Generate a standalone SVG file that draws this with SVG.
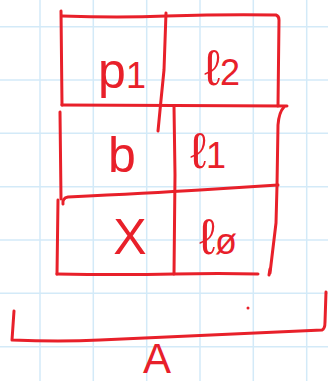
<svg xmlns="http://www.w3.org/2000/svg" width="328" height="381" viewBox="0 0 328 381">
<style>
.grid{stroke:#d3eaf8;stroke-width:1.5}
.ink{fill:none;stroke:#e8202a;stroke-width:3;stroke-linecap:round;stroke-linejoin:round}
.lbl{fill:#e8202a;font-family:"Liberation Sans",sans-serif;font-size:50px;text-anchor:middle}
.sub{font-size:36px}
</style>
<rect width="328" height="381" fill="#ffffff"/>
<g id="grid" class="grid">
<line x1="40" y1="0" x2="40" y2="381"/>
<line x1="93.3" y1="0" x2="93.3" y2="381"/>
<line x1="146.7" y1="0" x2="146.7" y2="381"/>
<line x1="200" y1="0" x2="200" y2="381"/>
<line x1="253.3" y1="0" x2="253.3" y2="381"/>
<line x1="306.7" y1="0" x2="306.7" y2="381"/>
<line x1="0" y1="26.7" x2="328" y2="26.7"/>
<line x1="0" y1="80" x2="328" y2="80"/>
<line x1="0" y1="133.3" x2="328" y2="133.3"/>
<line x1="0" y1="186.7" x2="328" y2="186.7"/>
<line x1="0" y1="240" x2="328" y2="240"/>
<line x1="0" y1="293.3" x2="328" y2="293.3"/>
<line x1="0" y1="346.7" x2="328" y2="346.7"/>
</g>
<g id="connectors" class="ink">
<path d="M61 11 L62 105"/>
<path d="M62 16 Q120 18 166 16 Q230 14 276 15 Q279 16 279 20 L278 106"/>
<path d="M166 13 L164 70 L161 100 L158 131"/>
<path d="M62 105 L287 106"/>
<path d="M60 112 L61 199"/>
<path d="M174 106 L175 175 L174 274"/>
<path d="M284 107 Q279 112 278 125 L277 185"/>
<path d="M63 204 Q62 198 68 197 Q150 193 200 190 L278 185"/>
<path d="M277 186 L276 223 L270 273"/>
<path d="M58 200 L57 274"/>
<path d="M57 274 Q120 275 174 274 Q220 273 258 274"/>
<path d="M270 269 L269 275"/>
<path d="M14 311 L12 340 Q60 342 100 340 Q200 335 322 330 Q325 329 325 322 L326 292"/>
<circle cx="248" cy="308" r="1.5" fill="#e8202a" stroke="none"/>
</g>
<g id="cell-p1"><text class="lbl" x="122" y="88">p<tspan class="sub">1</tspan></text></g>
<g id="cell-l2"><text class="lbl" x="222" y="85">ℓ<tspan class="sub">2</tspan></text></g>
<g id="cell-b"><text class="lbl" x="122" y="172">b</text></g>
<g id="cell-l1"><text class="lbl" x="208" y="168">ℓ<tspan class="sub">1</tspan></text></g>
<g id="cell-X"><text class="lbl" x="130" y="254">X</text></g>
<g id="cell-l0"><text class="lbl" x="218" y="254">ℓ<tspan class="sub">ø</tspan></text></g>
<g id="label-A"><text class="lbl" x="157" y="373" style="font-size:42px">A</text></g>
</svg>
